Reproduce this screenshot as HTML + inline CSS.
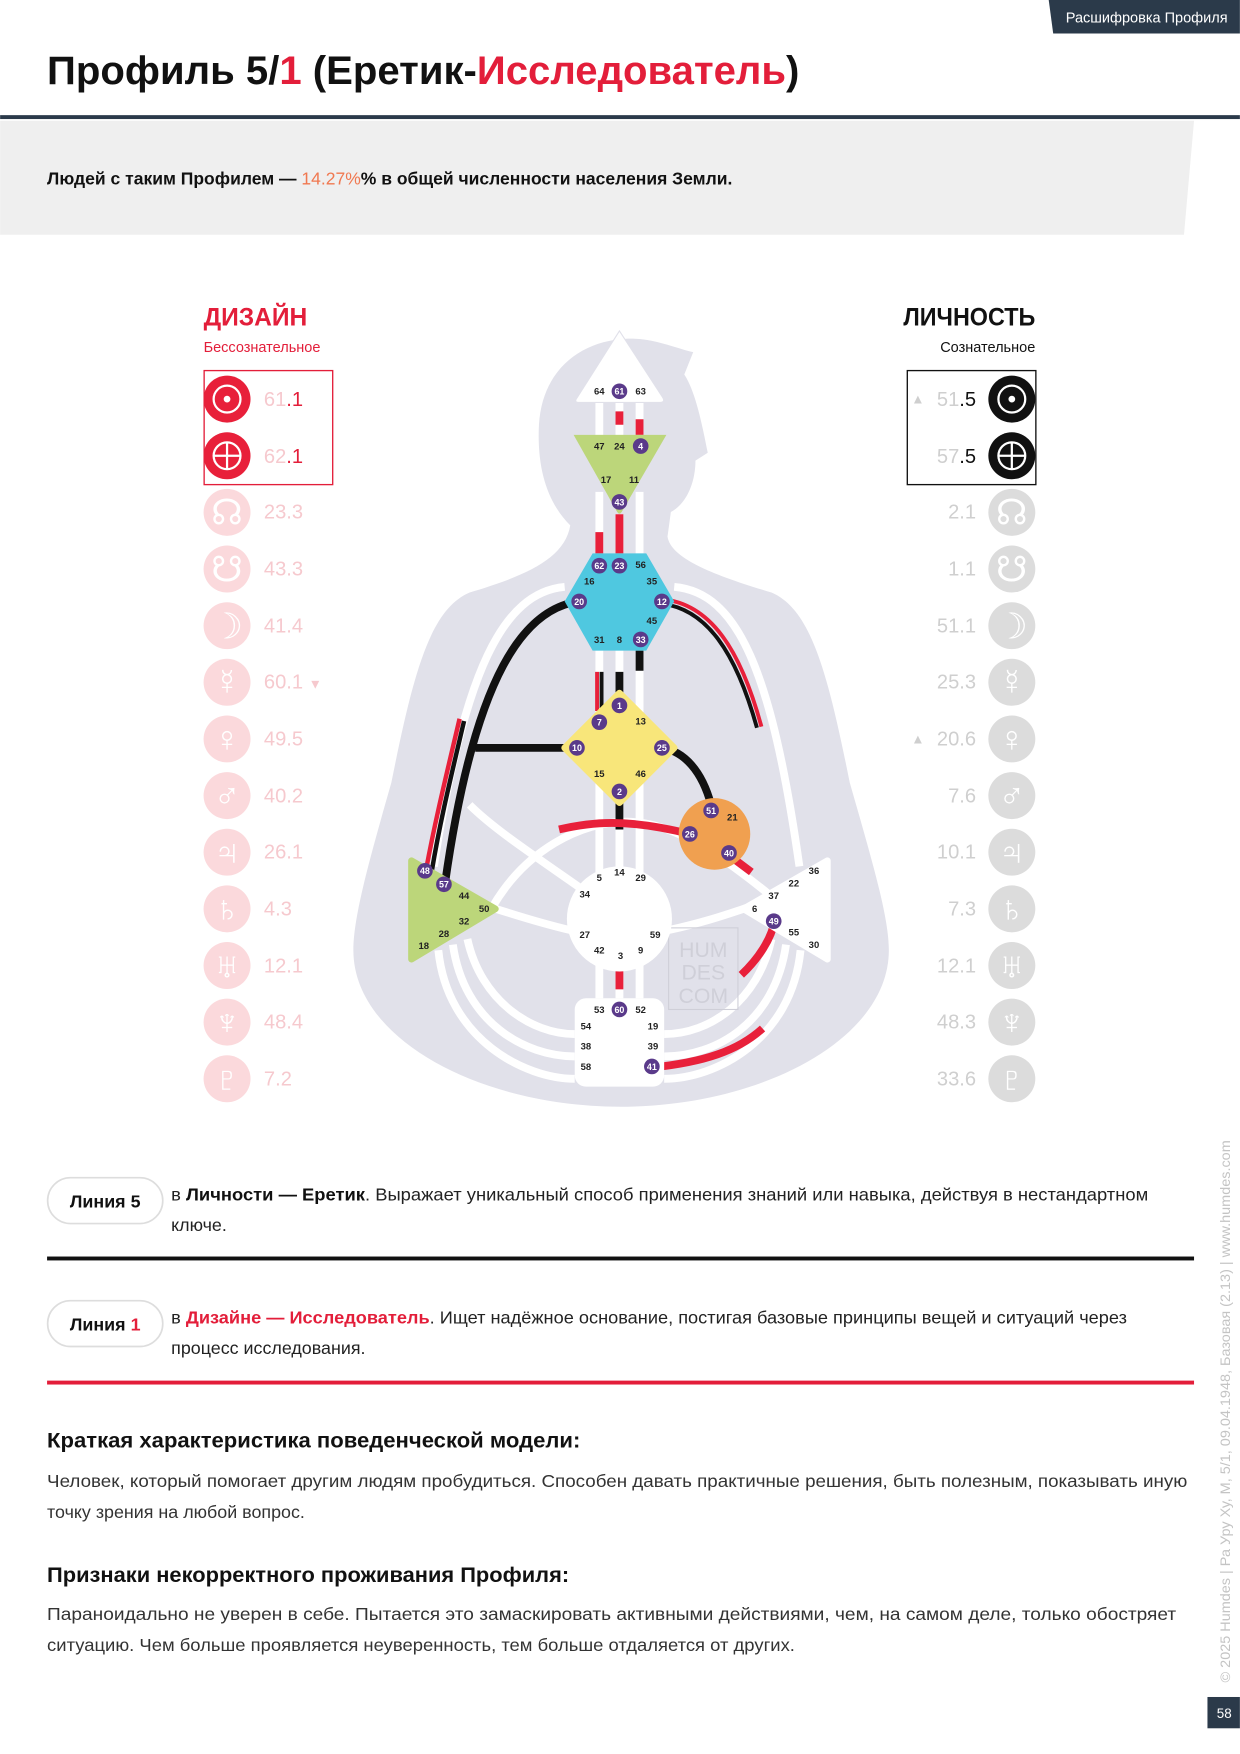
<!DOCTYPE html>
<html><head><meta charset="utf-8"><style>
html,body{margin:0;padding:0;background:#fff;width:1240px;height:1754px;overflow:hidden}
svg{display:block}
text{font-family:"Liberation Sans","DejaVu Sans",sans-serif}
.g{font-size:8.5px;font-weight:bold;fill:#222}
.b{font-size:8px;font-weight:bold;fill:#fff}
.pl{font-size:18px}
</style></head><body>
<svg width="1240" height="1754" viewBox="0 0 1109 1569" xmlns="http://www.w3.org/2000/svg">
<polygon points="938,0 1109,0 1109,30 942,30" fill="#2b3a4a"/>
<text x="1098" y="20" font-size="13" fill="#fff" text-anchor="end">Расшифровка Профиля</text>
<text x="42" y="75" font-size="36" font-weight="bold" fill="#111" textLength="673" lengthAdjust="spacingAndGlyphs">Профиль 5/<tspan fill="#e31e3a">1</tspan> (Еретик-<tspan fill="#e31e3a">Исследователь</tspan>)</text>
<rect x="0" y="103" width="1109" height="3.5" fill="#2b3a4a"/>
<polygon points="0,108 1068,108 1059,210 0,210" fill="#efefef"/>
<text x="42" y="165" font-size="16" font-weight="bold" fill="#111" textLength="613" lengthAdjust="spacingAndGlyphs">Людей с таким Профилем — <tspan fill="#f07850" font-weight="normal">14.27%</tspan>% в общей численности населения Земли.</text>

<text x="182" y="291" font-size="22" font-weight="bold" fill="#e31e3a">ДИЗАЙН</text>
<text x="182" y="315" font-size="13" fill="#e31e3a">Бессознательное</text>
<text x="926" y="291" font-size="22" font-weight="bold" fill="#111" text-anchor="end" textLength="118" lengthAdjust="spacingAndGlyphs">ЛИЧНОСТЬ</text>
<text x="926" y="315" font-size="13" fill="#111" text-anchor="end">Сознательное</text>

<path d="M510 470 C490 450,480 420,482 380 C485 330,520 305,560 303 C585 302,605 312,620 315 L612 335 C622 350,628 380,633 405 L622 412 C622 430,615 450,600 458 L597 480 C600 500,640 515,690 530 C725 545,740 600,760 700 C780 770,795 820,795 850 C795 930,680 990,555 990 C430 990,316 930,316 850 C316 820,330 770,350 700 C370 600,385 545,420 530 C470 515,505 500,510 470 Z" fill="#e1e1ea"/>
<g fill="none" stroke="#fff" stroke-width="7">
<path d="M536 360V389 M554 360V389 M572 360V389"/>
<path d="M536 440V495 M554 460V495 M572 440V495"/>
<path d="M536 582V640 M554 582V625 M572 582V640"/>
<path d="M536 700V780 M554 718V780 M572 700V780"/>
<path d="M536 860V893 M554 860V893 M572 860V893"/>
<path d="M505 525 C450 530,415 600,388 775"/>
<path d="M603 525 C660 530,690 600,715 775"/>
<path d="M440 812 C470 760,520 735,560 735 C600 735,640 760,700 810"/>
<path d="M510 832 C480 825,460 818,440 812"/>
<path d="M598 832 C630 825,650 818,668 812"/>
<path d="M520 795 C470 760,440 740,420 720"/>
<path d="M392 850 C400 930,470 965,514 965"/>
<path d="M405 845 C415 915,470 945,514 945"/>
<path d="M418 840 C430 895,475 925,514 925"/>
<path d="M716 850 C708 930,640 965,594 965"/>
<path d="M703 845 C693 915,640 945,594 945"/>
<path d="M690 840 C678 895,635 925,594 925"/>
</g>
<g fill="none" stroke-width="7">
<path d="M554 368V380 M572 375V389" stroke="#e8203a"/>
<path d="M536 476V495 M554 460V495" stroke="#e8203a"/>
<path d="M534 601V636" stroke="#e8203a" stroke-width="3.5"/>
<path d="M538 601V636" stroke="#111" stroke-width="3.5"/>
<path d="M554 601V625 M572 582V600" stroke="#111"/>
<path d="M517 538 C470 545,425 600,398 790" stroke="#111"/>
<path d="M516 669H425" stroke="#111"/>
<path d="M411 643 C400 690,390 730,381 778" stroke="#e8203a" stroke-width="4"/>
<path d="M415 645 C404 692,394 732,386 780" stroke="#111" stroke-width="4"/>
<path d="M592 536 C635 540,662 580,681 650" stroke="#e8203a" stroke-width="3.5"/>
<path d="M592 540 C632 545,658 583,677 651" stroke="#111" stroke-width="3.5"/>
<path d="M592 669 C612 672,628 690,636 720" stroke="#111"/>
<path d="M554 718V742" stroke="#111"/>
<path d="M500 742 C530 735,560 732,617 746" stroke="#e8203a"/>
<path d="M652 765L672 780" stroke="#e8203a"/>
<path d="M693 823 C690 840,678 858,663 872" stroke="#e8203a"/>
<path d="M583 955 C630 950,660 940,682 920" stroke="#e8203a"/>
<path d="M554 866V885" stroke="#e8203a"/>
</g>
<rect x="598" y="830" width="62" height="73" fill="none" stroke="#cfcfd8" stroke-width="1"/>
<text x="629" y="856" font-size="19" fill="#cfcfd8" text-anchor="middle">HUM</text>
<text x="629" y="876" font-size="19" fill="#cfcfd8" text-anchor="middle">DES</text>
<text x="629" y="897" font-size="19" fill="#cfcfd8" text-anchor="middle">COM</text>

<path d="M554 296 L593 356 Q595 360 590 360 L518 360 Q513 360 516 356 Z" fill="#fff" stroke="#e1e1ea"/>
<path d="M513 389 L596 389 L556 458 Q554 461 552 458 Z" fill="#bcd67a"/>
<polygon points="530,495 578,495 603,538 578,582 530,582 505,538" fill="#4fc8e0"/>
<path d="M554 620 L603 669 L554 718 L505 669 Z" fill="#f8e67a" stroke="#f8e67a" stroke-width="6" stroke-linejoin="round"/>
<circle cx="639" cy="746" r="32" fill="#f0a050"/>
<path d="M368 770 L443 813 L368 858 Z" fill="#bcd67a" stroke="#bcd67a" stroke-width="6" stroke-linejoin="round"/>
<circle cx="554" cy="822" r="47" fill="#fff"/>
<path d="M740 770 L665 813 L740 858 Z" fill="#fff" stroke="#fff" stroke-width="6" stroke-linejoin="round"/>
<rect x="514" y="893" width="80" height="79" rx="10" fill="#fff"/>

<g class="g" text-anchor="middle">
<text x="536" y="353">64</text><text x="573" y="353">63</text>
<text x="536" y="402">47</text><text x="554" y="402">24</text>
<text x="542" y="432">17</text><text x="567" y="432">11</text>
<text x="573" y="508">56</text><text x="527" y="523">16</text><text x="583" y="523">35</text>
<text x="583" y="558">45</text><text x="536" y="575">31</text><text x="554" y="575">8</text>
<text x="573" y="648">13</text><text x="536" y="695">15</text><text x="573" y="695">46</text>
<text x="655" y="734">21</text>
<text x="536" y="788">5</text><text x="554" y="783">14</text><text x="573" y="788">29</text>
<text x="523" y="803">34</text><text x="523" y="839">27</text><text x="586" y="839">59</text>
<text x="536" y="853">42</text><text x="555" y="858">3</text><text x="573" y="853">9</text>
<text x="728" y="782">36</text><text x="710" y="793">22</text><text x="692" y="804">37</text>
<text x="675" y="816">6</text><text x="710" y="837">55</text><text x="728" y="848">30</text>
<text x="415" y="804">44</text><text x="433" y="816">50</text><text x="415" y="827">32</text>
<text x="397" y="838">28</text><text x="379" y="849">18</text>
<text x="536" y="906">53</text><text x="573" y="906">52</text>
<text x="524" y="921">54</text><text x="584" y="921">19</text>
<text x="524" y="939">38</text><text x="584" y="939">39</text>
<text x="524" y="957">58</text>
</g>
<g fill="#5a3a8a">
<circle cx="554" cy="350" r="7"/><circle cx="573" cy="399" r="7"/><circle cx="554" cy="449" r="7"/>
<circle cx="536" cy="506" r="7"/><circle cx="554" cy="506" r="7"/><circle cx="518" cy="538" r="7"/><circle cx="592" cy="538" r="7"/><circle cx="573" cy="572" r="7"/>
<circle cx="554" cy="631" r="7"/><circle cx="536" cy="646" r="7"/><circle cx="516" cy="669" r="7"/><circle cx="592" cy="669" r="7"/><circle cx="554" cy="708" r="7"/>
<circle cx="636" cy="725" r="7"/><circle cx="617" cy="746" r="7"/><circle cx="652" cy="763" r="7"/>
<circle cx="380" cy="779" r="7"/><circle cx="397" cy="791" r="7"/>
<circle cx="692" cy="824" r="7"/><circle cx="554" cy="903" r="7"/><circle cx="583" cy="954" r="7"/>
</g>
<g class="b" text-anchor="middle">
<text x="554" y="353">61</text><text x="573" y="402">4</text><text x="554" y="452">43</text>
<text x="536" y="509">62</text><text x="554" y="509">23</text><text x="518" y="541">20</text><text x="592" y="541">12</text><text x="573" y="575">33</text>
<text x="554" y="634">1</text><text x="536" y="649">7</text><text x="516" y="672">10</text><text x="592" y="672">25</text><text x="554" y="711">2</text>
<text x="636" y="728">51</text><text x="617" y="749">26</text><text x="652" y="766">40</text>
<text x="380" y="782">48</text><text x="397" y="794">57</text>
<text x="692" y="827">49</text><text x="554" y="906">60</text><text x="583" y="957">41</text>
</g>

<rect x="182.5" y="331.5" width="115" height="102" fill="none" stroke="#e31e3a" stroke-width="1.2"/>
<rect x="811.5" y="331.5" width="115" height="102" fill="none" stroke="#111" stroke-width="1.2"/>

<g>
<circle cx="203" cy="357" r="21" fill="#e8203a"/><circle cx="203" cy="357" r="12" fill="none" stroke="#fff" stroke-width="2"/><circle cx="203" cy="357" r="3" fill="#fff"/>
<circle cx="203" cy="407.7" r="21" fill="#e8203a"/><circle cx="203" cy="407.7" r="12" fill="none" stroke="#fff" stroke-width="2"/><path d="M191 407.7H215M203 395.7V419.7" stroke="#fff" stroke-width="2"/>
<g fill="#fbd9dc">
<circle cx="203" cy="458.3" r="21"/><circle cx="203" cy="509" r="21"/><circle cx="203" cy="559.7" r="21"/><circle cx="203" cy="610.3" r="21"/><circle cx="203" cy="661" r="21"/><circle cx="203" cy="711.7" r="21"/><circle cx="203" cy="762.3" r="21"/><circle cx="203" cy="813" r="21"/><circle cx="203" cy="863.7" r="21"/><circle cx="203" cy="914.3" r="21"/><circle cx="203" cy="965" r="21"/>
</g>
<g fill="#fff" font-size="32" text-anchor="middle" style="font-family:'DejaVu Sans',sans-serif">
<text x="203" y="469">☊</text><text x="203" y="520">☋</text><text x="203" y="571">☽</text><text x="203" y="621">☿</text><text x="203" y="672">♀</text><text x="203" y="723">♂</text><text x="203" y="773">♃</text><text x="203" y="824">♄</text><text x="203" y="875">♅</text><text x="203" y="925">♆</text><text x="203" y="976">♇</text>
</g>
<g class="pl" fill="#f6c9ce">
<text x="236" y="363">61<tspan fill="#e31e3a">.1</tspan></text>
<text x="236" y="414">62<tspan fill="#e31e3a">.1</tspan></text>
<text x="236" y="464">23.3</text><text x="236" y="515">43.3</text><text x="236" y="566">41.4</text><text x="236" y="616">60.1 <tspan font-size="12">▼</tspan></text><text x="236" y="667">49.5</text><text x="236" y="718">40.2</text><text x="236" y="768">26.1</text><text x="236" y="819">4.3</text><text x="236" y="870">12.1</text><text x="236" y="920">48.4</text><text x="236" y="971">7.2</text>
</g>
</g>

<g>
<circle cx="905" cy="357" r="21" fill="#111"/><circle cx="905" cy="357" r="12" fill="none" stroke="#fff" stroke-width="2"/><circle cx="905" cy="357" r="3" fill="#fff"/>
<circle cx="905" cy="407.7" r="21" fill="#111"/><circle cx="905" cy="407.7" r="12" fill="none" stroke="#fff" stroke-width="2"/><path d="M893 407.7H917M905 395.7V419.7" stroke="#fff" stroke-width="2"/>
<g fill="#dcdcdc">
<circle cx="905" cy="458.3" r="21"/><circle cx="905" cy="509" r="21"/><circle cx="905" cy="559.7" r="21"/><circle cx="905" cy="610.3" r="21"/><circle cx="905" cy="661" r="21"/><circle cx="905" cy="711.7" r="21"/><circle cx="905" cy="762.3" r="21"/><circle cx="905" cy="813" r="21"/><circle cx="905" cy="863.7" r="21"/><circle cx="905" cy="914.3" r="21"/><circle cx="905" cy="965" r="21"/>
</g>
<g fill="#fff" font-size="32" text-anchor="middle" style="font-family:'DejaVu Sans',sans-serif">
<text x="905" y="469">☊</text><text x="905" y="520">☋</text><text x="905" y="571">☽</text><text x="905" y="621">☿</text><text x="905" y="672">♀</text><text x="905" y="723">♂</text><text x="905" y="773">♃</text><text x="905" y="824">♄</text><text x="905" y="875">♅</text><text x="905" y="925">♆</text><text x="905" y="976">♇</text>
</g>
<g class="pl" fill="#cfcfcf" text-anchor="end">
<text x="873" y="363">51<tspan fill="#111">.5</tspan></text>
<text x="873" y="414">57<tspan fill="#111">.5</tspan></text>
<text x="873" y="464">2.1</text><text x="873" y="515">1.1</text><text x="873" y="566">51.1</text><text x="873" y="616">25.3</text><text x="873" y="667">20.6</text><text x="873" y="718">7.6</text><text x="873" y="768">10.1</text><text x="873" y="819">7.3</text><text x="873" y="870">12.1</text><text x="873" y="920">48.3</text><text x="873" y="971">33.6</text>
</g>
<text x="821" y="361" font-size="12" fill="#cfcfcf" text-anchor="middle">▲</text>
<text x="821" y="665" font-size="12" fill="#cfcfcf" text-anchor="middle">▲</text>
</g>

<rect x="42.5" y="1053.5" width="103" height="41" rx="20.5" fill="#fff" stroke="#ddd" stroke-width="1.5"/>
<text x="94" y="1080" font-size="16" font-weight="bold" fill="#111" text-anchor="middle">Линия 5</text>
<text x="153" y="1074" font-size="16" fill="#222" textLength="874" lengthAdjust="spacingAndGlyphs">в <tspan font-weight="bold" fill="#111">Личности — Еретик</tspan>. Выражает уникальный способ применения знаний или навыка, действуя в нестандартном</text>
<text x="153" y="1101" font-size="16" fill="#222">ключе.</text>
<rect x="42" y="1124" width="1026" height="3.5" fill="#111"/>
<rect x="42.5" y="1163.5" width="103" height="41" rx="20.5" fill="#fff" stroke="#ddd" stroke-width="1.5"/>
<text x="94" y="1190" font-size="16" font-weight="bold" fill="#111" text-anchor="middle">Линия <tspan fill="#e31e3a">1</tspan></text>
<text x="153" y="1184" font-size="16" fill="#222" textLength="855" lengthAdjust="spacingAndGlyphs">в <tspan font-weight="bold" fill="#e31e3a">Дизайне — Исследователь</tspan>. Ищет надёжное основание, постигая базовые принципы вещей и ситуаций через</text>
<text x="153" y="1211" font-size="16" fill="#222">процесс исследования.</text>
<rect x="42" y="1235" width="1026" height="3.5" fill="#e31e3a"/>

<text x="42" y="1295" font-size="19" font-weight="bold" fill="#111" textLength="477" lengthAdjust="spacingAndGlyphs">Краткая характеристика поведенческой модели:</text>
<text x="42" y="1330" font-size="16" fill="#333" textLength="1020" lengthAdjust="spacingAndGlyphs">Человек, который помогает другим людям пробудиться. Способен давать практичные решения, быть полезным, показывать иную</text>
<text x="42" y="1358" font-size="16" fill="#333">точку зрения на любой вопрос.</text>
<text x="42" y="1415" font-size="19" font-weight="bold" fill="#111" textLength="467" lengthAdjust="spacingAndGlyphs">Признаки некорректного проживания Профиля:</text>
<text x="42" y="1449" font-size="16" fill="#333" textLength="1010" lengthAdjust="spacingAndGlyphs">Параноидально не уверен в себе. Пытается это замаскировать активными действиями, чем, на самом деле, только обостряет</text>
<text x="42" y="1477" font-size="16" fill="#333" textLength="669" lengthAdjust="spacingAndGlyphs">ситуацию. Чем больше проявляется неуверенность, тем больше отдаляется от других.</text>

<text transform="translate(1100 1505) rotate(-90)" font-size="12" fill="#c4c4c4" textLength="485" lengthAdjust="spacingAndGlyphs">© 2025 Humdes | Ра Уру Ху, М, 5/1, 09.04.1948, Базовая (2.13) | www.humdes.com</text>
<rect x="1080" y="1518" width="29" height="28" fill="#2b3a4a"/>
<text x="1095" y="1537" font-size="12" fill="#fff" text-anchor="middle">58</text>
</svg>
</body></html>
